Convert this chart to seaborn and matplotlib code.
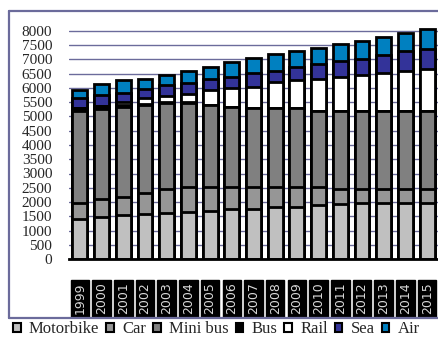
import numpy as np
import pandas as pd
import seaborn as sns
import matplotlib.pyplot as plt
from matplotlib.patches import Patch
from matplotlib.lines import Line2D

# values (stack order bottom -> top)
years = ['1999', '2000', '2001', '2002', '2003', '2004', '2005', '2006', '2007',
         '2008', '2009', '2010', '2011', '2012', '2013', '2014', '2015']
motorbike = [1390, 1485, 1555, 1580, 1625, 1660, 1685, 1745, 1745,
             1815, 1815, 1895, 1920, 1975, 1975, 1975, 1975]
car = [585, 610, 630, 725, 830, 855, 850, 790, 790,
       720, 720, 640, 525, 470, 470, 470, 470]
mini_bus = [3215, 3165, 3160, 3095, 3025, 2965, 2865, 2810, 2755,
            2755, 2755, 2670, 2760, 2760, 2760, 2760, 2760]
bus = [100, 100, 50, 40, 30, 20, 20, 0, 0,
       0, 0, 0, 0, 0, 0, 0, 0]
rail = [0, 10, 115, 200, 220, 290, 510, 645, 760,
        910, 990, 1125, 1195, 1255, 1315, 1405, 1465]
sea = [350, 385, 325, 315, 365, 400, 375, 410, 490,
       410, 470, 500, 560, 560, 640, 700, 700]
air = [290, 375, 435, 375, 375, 420, 445, 500, 500,
       570, 560, 560, 570, 640, 640, 630, 710]

modes = ['Motorbike', 'Car', 'Mini bus', 'Bus', 'Rail', 'Sea', 'Air']
colors = ['#c0c0c0', '#969696', '#808080', '#000000', '#ffffff', '#333399', '#0080c0']
series = [motorbike, car, mini_bus, bus, rail, sea, air]

df = pd.DataFrame(dict(zip(modes, series)), index=years)
cum = df.cumsum(axis=1)

sns.set_style('white')
plt.rcParams['font.family'] = ['Liberation Serif', 'DejaVu Serif']

fig = plt.figure(figsize=(4.38, 3.39), dpi=100)
ax = fig.add_axes([69 / 438, 1 - 259 / 339, 1 - 69 / 438, 239.4 / 339])

grid_col = '#6b6b9b'

# overlay cumulative totals, tallest first
for mode, col in reversed(list(zip(modes, colors))):
    sns.barplot(x=years, y=cum[mode].values, color=col, edgecolor='black',
                linewidth=2, width=0.685, saturation=1, ax=ax, zorder=3)

ax.set_ylim(0, 8400)
ax.set_xlim(-0.5, 16.35)
ax.set_yticks(np.arange(0, 8001, 500))
ax.yaxis.grid(True, color=grid_col, lw=1, zorder=0)
ax.set_axisbelow(True)
for s in ['left', 'right', 'top']:
    ax.spines[s].set_visible(False)
ax.spines['bottom'].set_color('black')
ax.spines['bottom'].set_linewidth(2)
ax.spines['bottom'].set_zorder(5)

ax.tick_params(axis='y', length=0, labelsize=11, pad=12)
ax.tick_params(axis='x', which='major', length=0, pad=17, labelsize=9)
ax.set_xticks(np.arange(len(years) + 1) - 0.5, minor=True)
ax.tick_params(axis='x', which='minor', direction='out', length=4, width=1.5, color='black')
ax.set_xticklabels(years, rotation=90, color='#d8d8d8', fontfamily='DejaVu Sans')
for lbl in ax.get_xticklabels():
    lbl.set_bbox(dict(facecolor='black', edgecolor='black', pad=2))
ax.set_xlabel('')
ax.set_ylabel('')

# chart frame (left, top, bottom edges visible)
fl = dict(color=grid_col, lw=1.6, transform=fig.transFigure)
fig.add_artist(Line2D([9 / 438, 9 / 438], [1 - 318 / 339, 1 - 11 / 339], **fl))
fig.add_artist(Line2D([9 / 438, 1], [1 - 11 / 339, 1 - 11 / 339], **fl))
fig.add_artist(Line2D([9 / 438, 1], [1 - 318 / 339, 1 - 318 / 339], **fl))

handles = [Patch(facecolor=c, edgecolor='black', lw=1.5) for c in colors]
fig.legend(handles, modes, loc='center left', bbox_to_anchor=(0.03, 1 - 329 / 339),
           ncol=7, frameon=False, fontsize=12, handlelength=0.45, handleheight=0.45,
           handletextpad=0.5, columnspacing=0.42, borderpad=0, borderaxespad=0)

fig.savefig('out.png', dpi=100)
